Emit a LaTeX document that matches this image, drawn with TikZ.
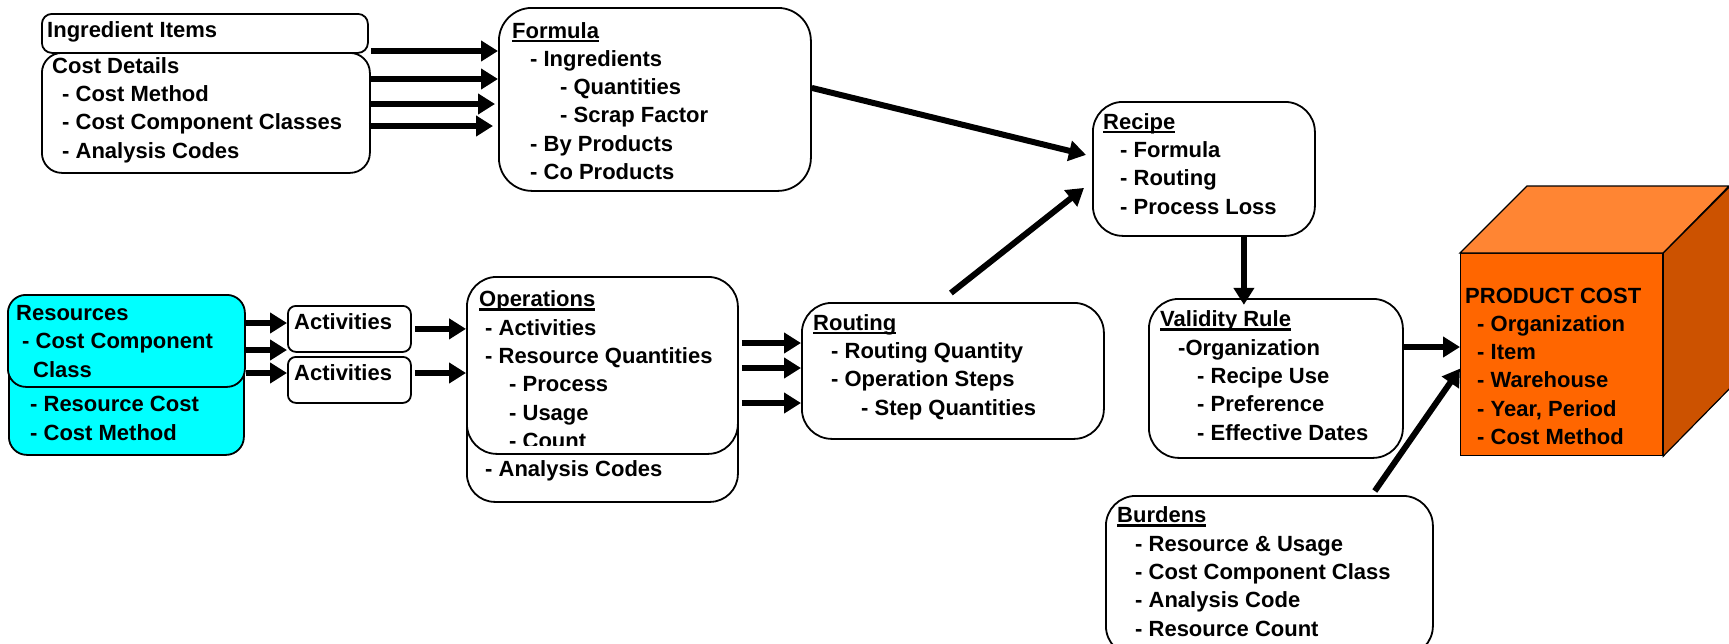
\documentclass[tikz,border=0pt]{standalone}
\usepackage{fontspec}
\setmainfont{Liberation Sans}
\usepackage{tikz}
\usetikzlibrary{arrows.meta}
\definecolor{rescyan}{HTML}{00FFFF}
\definecolor{cubefront}{HTML}{FF6600}
\definecolor{cubetop}{HTML}{FF8533}
\definecolor{cubeside}{HTML}{CC5200}
\newcommand{\hd}[1]{\setbox0\hbox{#1}\rlap{\rule[-4pt]{\wd0}{2.5pt}}\box0}

\begin{document}
\begin{tikzpicture}[x=1pt,y=-1pt,
	box/.style={draw, line width=1.8pt, fill=white, rounded corners=30pt, anchor=north west, inner sep=0pt},
	txt/.style={anchor=base west, align=left, inner sep=0pt, font=\bfseries\fontsize{22}{28.3}\selectfont},
	arr/.style={line width=6pt, -{Triangle[length=17pt,width=20pt]}}]
	\useasboundingbox (0,0) rectangle (1729,643);
	\clip (0,0) rectangle (1729,643);
	
	\node[box, minimum width=328pt, minimum height=120pt, rounded corners=20pt] (cost) at (41,52) {};
	\node[box, minimum width=326pt, minimum height=39pt, rounded corners=10pt] (ingr) at (41,13) {};
	\node[box, minimum width=312pt, minimum height=183pt, rounded corners=33pt] (formula) at (498,7) {};
	\node[box, minimum width=222pt, minimum height=134pt] (recipe) at (1092,101) {};
	\node[box, minimum width=254pt, minimum height=159pt] (valid) at (1148,298) {};
	\node[box, minimum width=327pt, minimum height=160pt] (burdens) at (1105,495) {};
	\node[box, minimum width=302pt, minimum height=136pt] (routing) at (801,302) {};
	\node[box, minimum width=271pt, minimum height=201pt, rounded corners=28pt] (opsback) at (466,300) {};
	\node[box, minimum width=271pt, minimum height=177pt] (ops) at (466,276) {};
	\node[box, fill=rescyan, minimum width=235pt, minimum height=134pt, rounded corners=18pt] (resback) at (8,320) {};
	\node[box, fill=rescyan, minimum width=237pt, minimum height=92pt, rounded corners=18pt] (res) at (7,294) {};
	\node[box, minimum width=123pt, minimum height=46pt, rounded corners=8pt] (act1) at (287,305) {};
	\node[box, minimum width=123pt, minimum height=46pt, rounded corners=8pt] (act2) at (287,356) {};
	
	\node[box, fill=cubefront, line width=1.2pt, rounded corners=0pt, minimum width=202pt, minimum height=202pt] (prod) at (1460,253) {};
	\draw[fill=cubetop, line width=1.2pt] (prod.north west) -- ++(67,-67) -- ++(202,0) -- (prod.north east) -- cycle;
	\draw[fill=cubeside, line width=1.2pt] (prod.north east) -- ++(67,-67) -- ++(0,202) -- (prod.south east) -- cycle;
	
	% multi-line texts sit on the baseline of their last line
	\node[txt] (ingrtxt) at (47,37) {Ingredient Items};
	\node[txt] (costtxt) at (52,158) {Cost Details\\\hspace*{10pt}- Cost Method\\\hspace*{10pt}- Cost Component Classes\\\hspace*{10pt}- Analysis Codes};
	\node[txt] (formulatxt) at (512,179.5) {\hd{Formula}\\\hspace*{18pt}- Ingredients\\\hspace*{48pt}- Quantities\\\hspace*{48pt}- Scrap Factor\\\hspace*{18pt}- By Products\\\hspace*{18pt}- Co Products};
	\node[txt] (recipetxt) at (1103,214) {\hd{Recipe}\\\hspace*{17pt}- Formula\\\hspace*{17pt}- Routing\\\hspace*{17pt}- Process Loss};
	\node[txt] (validtxt) at (1160,440) {\hd{Validity Rule}\\\hspace*{18pt}-Organization\\\hspace*{37pt}- Recipe Use\\\hspace*{37pt}- Preference\\\hspace*{37pt}- Effective Dates};
	\node[txt] (routingtxt) at (813,415) {\hd{Routing}\\\hspace*{18pt}- Routing Quantity\\\hspace*{18pt}- Operation Steps\\\hspace*{48pt}- Step Quantities};
	\node[txt] (opstxt) at (479,420) {\hd{Operations}\\\hspace*{6pt}- Activities\\\hspace*{6pt}- Resource Quantities\\\hspace*{30pt}- Process\\\hspace*{30pt}- Usage};
	\begin{scope}
		\clip (466,276) rectangle (737,445);
		\node[txt] (opscount) at (509,448) {- Count};
	\end{scope}
	\node[txt] (opsbacktxt) at (485,476) {- Analysis Codes};
	\node[txt] (restxt) at (16,377) {Resources\\\hspace*{6pt}- Cost Component\\\hspace*{17pt}Class};
	\node[txt] (resbacktxt) at (30,440) {- Resource Cost\\- Cost Method};
	\node[txt] (act1txt) at (294,329) {Activities};
	\node[txt] (act2txt) at (294,380) {Activities};
	\node[txt] (prodtxt) at (1465,444.5) {PRODUCT COST\\\hspace*{12pt}- Organization\\\hspace*{12pt}- Item\\\hspace*{12pt}- Warehouse\\\hspace*{12pt}- Year, Period\\\hspace*{12pt}- Cost Method};
	\node[txt] (burdenstxt) at (1117,636) {\hd{Burdens}\\\hspace*{18pt}- Resource \& Usage\\\hspace*{18pt}- Cost Component Class\\\hspace*{18pt}- Analysis Code\\\hspace*{18pt}- Resource Count};
	
	\draw[arr] (cost.east |- 0,51) -- (formula.west |- 0,51);
	\draw[arr] (cost.east |- 0,79) -- (formula.west |- 0,79);
	\draw[arr] (cost.east |- 0,104) -- ([xshift=-3pt]formula.west |- 0,104);
	\draw[arr] ([xshift=-2pt]cost.east |- 0,126) -- ([xshift=-5pt]formula.west |- 0,126);
	\draw[arr] ([yshift=11.5pt]formula.east) -- ([shift={(-6pt,14pt)}]recipe.west);
	\draw[arr] ([shift={(-2pt,9pt)}]routing.north) -- ([shift={(-8pt,-19pt)}]recipe.west);
	\draw[arr] ([xshift=40pt]recipe.south) -- ++(0,68);
	\draw[arr] (valid.east |- 0,347) -- (prod.west |- 0,347);
	\draw[arr] ([shift={(-59pt,4pt)}]burdens.north east) -- ([yshift=-14pt]prod.west);
	
	\draw[arr] (res.east |- 0,323) -- (act1.west |- 0,323);
	\draw[arr] (res.east |- 0,350) -- (act1.west |- 0,350);
	\draw[arr] (res.east |- 0,373) -- (act2.west |- 0,373);
	\draw[arr] ([xshift=3pt]act1.east) -- (ops.west |- act1.east);
	\draw[arr] ([xshift=3pt]act2.east |- 0,373) -- (ops.west |- 0,373);
	
	\draw[arr] ([xshift=3pt]ops.east |- 0,343) -- (routing.west |- 0,343);
	\draw[arr] ([xshift=3pt]ops.east |- 0,368) -- (routing.west |- 0,368);
	\draw[arr] ([xshift=3pt]ops.east |- 0,403) -- (routing.west |- 0,403);
\end{tikzpicture}
\end{document}
